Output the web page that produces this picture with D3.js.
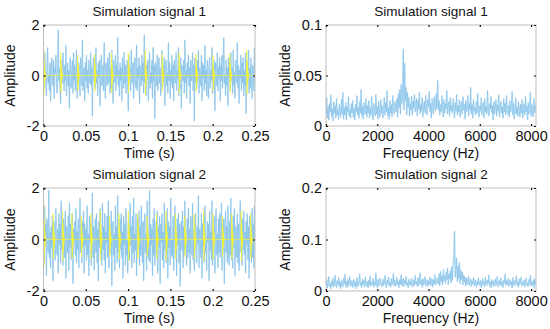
<!DOCTYPE html>
<html>
<head>
<meta charset="utf-8">
<script src="https://cdn.jsdelivr.net/npm/d3@7"></script>
<style>
  body { margin: 0; background: #fff; }
  svg { display: block; font-family: "Liberation Sans", Arial, sans-serif; }
</style>
</head>
<body>
<svg width="550" height="329"></svg>
<script>
// noise of simulation signal 1 (time domain, 0 - 0.25 s)
var signal1 = [
  0.2,-0.5,0.9,0.3,-0.2,-0.8,0.4,1.1,-0.3,0.0,-0.6,0.5,-1.0,0.2,0.7,-0.1,-0.4,0.6,-0.9,0.3,
  0.1,0.8,-0.3,-0.7,0.4,1.8,-0.2,0.3,-0.5,-1.1,0.6,0.0,-0.3,0.9,0.2,-0.6,0.4,-0.2,1.2,-0.8,
  -0.1,0.5,-0.4,0.2,-1.3,0.7,0.3,-0.5,0.1,0.6,-0.7,0.9,-0.2,0.4,-0.6,0.0,1.0,-0.9,0.3,-0.3,
  0.5,-0.1,-0.8,0.7,0.2,-0.4,1.4,-0.6,0.1,0.3,-1.0,0.5,-0.2,0.8,-0.5,0.2,-0.7,0.6,0.0,-0.3,
  0.9,-0.4,0.3,-1.6,0.4,0.7,-0.2,0.1,-0.5,1.1,-0.3,0.2,-0.8,0.5,-0.1,0.6,-1.2,0.3,0.8,-0.4,
  -0.2,0.4,-0.6,1.3,-0.1,-0.9,0.5,0.2,-0.4,0.7,-0.3,0.0,0.9,-0.7,0.3,-0.5,1.0,-0.2,-1.1,0.6,
  0.1,-0.3,0.8,-0.6,0.4,-0.1,1.5,-0.4,0.2,-0.8,0.5,-0.2,0.3,-1.0,0.7,0.0,-0.5,0.9,-0.3,0.4,
  -0.7,0.2,0.6,-0.4,-1.4,0.8,-0.1,0.3,-0.6,1.0,0.1,-0.3,0.5,-0.9,0.2,0.7,-0.2,-0.5,1.2,-0.6,
  0.3,-0.1,0.7,-1.1,0.4,0.0,-0.4,0.8,-0.2,0.5,-0.7,1.6,-0.3,0.2,-0.8,0.4,-0.1,0.6,-1.0,0.3,
  0.9,-0.5,0.1,-0.3,0.6,-0.9,1.1,-0.2,0.4,-1.7,0.5,0.2,-0.4,0.8,-0.6,0.0,0.7,-0.3,0.3,-0.8,
  -0.1,1.0,-0.5,0.4,-0.2,0.7,-1.2,0.3,0.6,-0.4,0.1,-0.7,1.3,-0.2,0.5,-0.9,0.2,-0.3,0.8,-0.5,
  0.4,-1.0,0.6,0.0,-0.3,0.9,-0.6,0.2,-0.1,1.1,-0.8,0.3,-0.5,0.7,-1.3,0.4,0.1,-0.2,0.6,-0.7,
  1.4,-0.3,0.2,-0.9,0.5,-0.1,0.8,-0.4,0.3,-1.1,0.6,-0.2,0.0,0.9,-0.6,0.4,-1.8,0.7,-0.3,0.2,
  -0.5,0.6,-0.2,1.0,-0.7,0.3,0.1,-0.4,0.8,-1.0,0.5,-0.1,0.4,-0.6,1.2,-0.3,0.2,-0.8,0.6,0.0,
  -0.9,0.3,0.7,-0.5,0.2,-0.2,1.1,-0.7,0.4,-0.3,0.6,-1.4,0.5,0.1,-0.4,0.9,-0.6,0.3,-0.1,0.7,
  -1.0,0.4,-0.2,0.8,-0.5,0.2,1.5,-0.3,0.0,-0.8,0.6,-0.4,0.3,-1.2,0.7,-0.1,0.5,-0.6,0.9,-0.2,
  0.3,-0.7,1.0,-0.4,0.1,-0.9,0.6,0.2,-0.3,1.3,-0.5,0.4,-1.1,0.2,-0.1,0.8,-0.6,0.5,-0.3,0.7,
  -0.8,0.2,-0.4,0.9,-1.5,0.6,0.0,-0.2,1.0,-0.7,0.3,-0.5,0.7,-0.1,-0.9,0.4,0.2,-0.6,1.1,-0.3
];

// noise of simulation signal 2
var signal2 = [
  0.4,-0.9,1.3,-0.2,0.6,-1.4,0.8,0.1,-0.5,1.9,-0.7,0.3,-1.1,0.5,-0.3,0.9,-1.6,0.2,0.7,-0.4,
  -0.8,1.2,0.0,-0.6,0.4,-1.3,1.0,-0.2,0.6,-0.9,1.5,-0.4,0.2,-1.0,0.8,0.3,-0.7,1.1,-1.5,0.5,
  0.1,-0.5,0.9,-1.2,1.4,-0.3,0.6,-0.8,0.2,1.0,-1.7,0.4,-0.1,0.7,-0.6,1.2,-0.9,0.3,-0.4,0.8,
  -1.1,0.5,1.6,-0.5,0.0,-0.9,0.7,-0.3,1.1,-1.3,0.6,-0.2,0.4,-0.8,1.3,-0.6,0.2,-1.4,0.9,-0.1,
  0.6,-1.0,0.3,1.8,-0.7,0.5,-1.2,0.1,0.8,-0.5,1.0,-0.9,0.4,-1.6,0.7,-0.3,1.2,-0.6,0.2,-1.0,
  1.4,-0.4,0.5,-0.8,1.0,-1.3,0.3,-0.1,0.9,-0.7,1.5,-1.1,0.6,0.0,-0.5,1.1,-1.8,0.4,0.7,-0.6,
  0.2,-1.2,1.3,-0.3,0.5,-0.9,1.7,-0.5,0.1,-1.1,0.8,-0.4,1.0,-0.7,0.3,-1.5,0.9,-0.2,0.6,-1.0,
  1.2,-0.6,0.0,-1.3,0.7,0.4,-0.8,1.4,-0.2,0.5,-1.1,0.9,-0.5,1.6,-0.9,0.2,-0.4,1.0,-1.4,0.3,
  0.8,-0.3,1.1,-1.0,0.5,-0.6,1.3,-0.1,-0.9,0.7,-1.6,0.4,1.0,-0.5,0.2,-1.2,1.5,-0.7,0.3,-0.8,
  1.9,-0.9,0.6,-0.2,0.4,-1.4,0.8,-0.6,1.2,-1.0,0.1,0.7,-0.5,1.1,-1.3,0.5,-0.3,0.9,-1.7,0.6,
  -0.1,1.0,-0.8,0.3,-1.1,1.4,-0.4,0.6,-0.9,0.2,1.2,-1.5,0.7,-0.3,0.5,-1.0,1.6,-0.6,0.0,-0.7,
  0.9,-1.2,0.4,1.3,-0.5,0.2,-1.4,0.8,-0.2,1.0,-0.9,0.6,-1.8,0.3,0.7,-0.4,1.1,-1.1,0.5,-0.6,
  1.5,-0.3,0.1,-1.0,0.8,-0.7,1.2,-0.5,0.4,-1.3,0.9,0.0,-0.6,1.4,-0.8,0.3,-1.2,0.6,1.0,-0.4,
  -0.9,0.5,-0.2,1.7,-1.1,0.4,0.2,-0.7,1.0,-1.5,0.6,-0.3,0.9,-0.9,1.3,-0.5,0.1,-1.2,0.7,-0.1,
  0.6,-1.6,1.1,-0.4,0.3,-0.8,1.5,-1.0,0.5,-0.2,0.9,-1.3,0.4,1.2,-0.6,0.2,-1.1,0.8,-0.5,1.0,
  -0.7,0.3,1.4,-1.2,0.6,-0.4,0.8,-1.7,0.2,1.1,-0.5,0.5,-0.9,1.3,-0.2,-1.0,0.7,-0.6,1.6,-0.8,
  0.4,-1.1,0.9,-0.3,1.2,-1.4,0.5,0.0,-0.7,1.0,-0.9,0.6,-1.2,0.3,1.5,-0.5,0.2,-1.0,0.8,-0.4,
  1.1,-0.6,0.3,-1.3,0.7,-0.2,1.0,-0.8,0.5,-1.5,0.9,-0.1,0.4,-0.9,1.2,-0.7,0.6,-1.1,1.3,-0.3
];

// amplitude spectrum of signal 1 (0 - 8192 Hz)
var spectrum1 = [
  0.012,0.028,0.008,0.019,0.006,0.022,0.014,0.031,0.010,0.017,0.005,0.024,0.013,0.020,0.008,0.027,0.011,0.016,0.007,0.021,
  0.015,0.009,0.026,0.012,0.033,0.007,0.018,0.011,0.023,0.006,0.019,0.014,0.029,0.010,0.016,0.008,0.022,0.013,0.025,0.009,
  0.017,0.006,0.021,0.014,0.030,0.011,0.018,0.008,0.024,0.013,0.036,0.010,0.019,0.007,0.023,0.015,0.012,0.027,0.009,0.020,
  0.013,0.025,0.008,0.018,0.011,0.029,0.014,0.006,0.022,0.016,0.010,0.031,0.012,0.019,0.007,0.024,0.015,0.009,0.026,0.013,
  0.020,0.008,0.017,0.028,0.011,0.023,0.014,0.035,0.010,0.018,0.007,0.025,0.013,0.021,0.009,0.030,0.016,0.012,0.024,0.019,
  0.014,0.027,0.009,0.032,0.018,0.036,0.012,0.041,0.022,0.030,0.076,0.016,0.062,0.025,0.038,0.011,0.033,0.019,0.028,0.010,
  0.022,0.016,0.029,0.011,0.024,0.018,0.031,0.014,0.020,0.027,0.010,0.025,0.017,0.033,0.012,0.021,0.015,0.028,0.009,0.019,
  0.024,0.013,0.030,0.016,0.011,0.026,0.019,0.034,0.014,0.022,0.008,0.027,0.017,0.012,0.029,0.020,0.015,0.032,0.018,0.045,
  0.016,0.025,0.011,0.021,0.014,0.030,0.018,0.009,0.026,0.013,0.022,0.017,0.035,0.012,0.019,0.024,0.010,0.028,0.015,0.020,
  0.013,0.027,0.017,0.008,0.023,0.015,0.031,0.011,0.020,0.014,0.026,0.009,0.018,0.024,0.012,0.029,0.016,0.021,0.007,0.025,
  0.014,0.019,0.030,0.010,0.022,0.016,0.038,0.012,0.021,0.008,0.026,0.015,0.018,0.011,0.024,0.013,0.032,0.017,0.009,0.020,
  0.015,0.028,0.011,0.018,0.023,0.008,0.027,0.014,0.019,0.012,0.035,0.016,0.010,0.022,0.017,0.029,0.013,0.020,0.006,0.024,
  0.012,0.018,0.026,0.010,0.021,0.015,0.031,0.009,0.017,0.024,0.013,0.019,0.008,0.027,0.014,0.022,0.011,0.030,0.016,0.012,
  0.020,0.009,0.025,0.014,0.018,0.034,0.011,0.022,0.007,0.016,0.028,0.012,0.019,0.010,0.024,0.015,0.009,0.021,0.013,0.026,
  0.008,0.017,0.022,0.011,0.029,0.014,0.019,0.006,0.023,0.012,0.018,0.033,0.010,0.021,0.015,0.009,0.027,0.013,0.020,0.016
];

// amplitude spectrum of signal 2
var spectrum2 = [
  0.010,0.022,0.006,0.016,0.028,0.009,0.014,0.004,0.019,0.011,0.025,0.008,0.015,0.030,0.012,0.007,0.020,0.013,0.026,0.009,
  0.017,0.005,0.021,0.012,0.008,0.024,0.014,0.032,0.010,0.018,0.006,0.023,0.011,0.016,0.028,0.009,0.013,0.020,0.007,0.015,
  0.022,0.010,0.017,0.005,0.026,0.012,0.009,0.019,0.033,0.011,0.016,0.007,0.023,0.013,0.020,0.008,0.027,0.014,0.010,0.018,
  0.006,0.021,0.012,0.029,0.009,0.016,0.013,0.024,0.008,0.018,0.011,0.035,0.014,0.007,0.022,0.010,0.019,0.025,0.012,0.015,
  0.009,0.023,0.011,0.017,0.030,0.013,0.006,0.020,0.014,0.027,0.010,0.016,0.008,0.024,0.012,0.019,0.034,0.011,0.021,0.009,
  0.015,0.026,0.012,0.018,0.007,0.022,0.013,0.031,0.010,0.017,0.024,0.009,0.020,0.014,0.028,0.011,0.016,0.006,0.023,0.013,
  0.019,0.010,0.025,0.015,0.008,0.021,0.012,0.030,0.014,0.018,0.009,0.026,0.011,0.016,0.035,0.013,0.020,0.007,0.024,0.012,
  0.017,0.028,0.010,0.015,0.022,0.009,0.019,0.013,0.027,0.011,0.016,0.024,0.008,0.021,0.014,0.031,0.012,0.018,0.025,0.016,
  0.014,0.033,0.010,0.038,0.018,0.029,0.012,0.041,0.020,0.030,0.015,0.036,0.022,0.044,0.013,0.032,0.024,0.039,0.016,0.046,
  0.021,0.052,0.068,0.116,0.027,0.042,0.064,0.018,0.048,0.024,0.055,0.014,0.040,0.022,0.037,0.012,0.031,0.018,0.027,0.010,
  0.024,0.013,0.020,0.029,0.011,0.017,0.023,0.009,0.019,0.014,0.026,0.010,0.016,0.021,0.008,0.018,0.012,0.025,0.015,0.011,
  0.020,0.007,0.016,0.024,0.012,0.018,0.009,0.027,0.014,0.011,0.021,0.015,0.031,0.010,0.017,0.006,0.022,0.013,0.019,0.009,
  0.015,0.023,0.011,0.018,0.028,0.008,0.014,0.020,0.012,0.025,0.010,0.017,0.007,0.021,0.016,0.033,0.011,0.019,0.013,0.024,
  0.009,0.016,0.022,0.012,0.018,0.006,0.026,0.014,0.010,0.020,0.015,0.029,0.011,0.017,0.008,0.023,0.013,0.019,0.027,0.010,
  0.016,0.012,0.021,0.008,0.018,0.025,0.011,0.015,0.009,0.022,0.014,0.030,0.010,0.017,0.012,0.020,0.007,0.024,0.013,0.018
];

// periodic impulses (yellow): onset times and peak amplitudes
var impulseTimes1 = [0, 0.02, 0.04, 0.06, 0.08, 0.1, 0.12, 0.14, 0.16, 0.18, 0.2, 0.22, 0.24];
var impulseAmps1 = [1.0, 0.9, 0.8, 0.85, 0.9, 0.9, 1.0, 0.85, 0.9, 0.85, 0.8, 0.85, 1.0];
var impulseTimes2 = [0, 0.0111, 0.0222, 0.0333, 0.0444, 0.0556, 0.0667, 0.0778, 0.0889, 0.1, 0.1111,
  0.1222, 0.1333, 0.1444, 0.1556, 0.1667, 0.1778, 0.1889, 0.2, 0.2111, 0.2222, 0.2333, 0.2444];
var impulseAmps2 = [1.4, 1.0, 1.1, 1.0, 0.9, 1.0, 1.1, 0.9, 1.0, 1.1, 1.0,
  0.9, 1.0, 1.1, 1.0, 0.9, 1.0, 1.1, 1.0, 0.9, 1.0, 1.1, 1.0];
// ringing of one impulse, relative to its peak, one sample every 0.0003 s
var impulseShape = [0, 1, -0.75, 0.55, -0.4, 0.28, -0.18, 0.1, -0.05, 0];

// axes
var timeTicks = [0, 0.05, 0.1, 0.15, 0.2, 0.25];
var timeLabels = ["0", "0.05", "0.1", "0.15", "0.2", "0.25"];
var freqTicks = [0, 2000, 4000, 6000, 8000];
var freqLabels = ["0", "2000", "4000", "6000", "8000"];
var ampTicks = [-2, 0, 2];
var ampLabels = ["-2", "0", "2"];
var spec1Ticks = [0, 0.05, 0.1];
var spec1Labels = ["0", "0.05", "0.1"];
var spec2Ticks = [0, 0.1, 0.2];
var spec2Labels = ["0", "0.1", "0.2"];

var svg = d3.select("svg");

var haloColor = "#c2e3f6";
var noiseColor = "#3f9bd9";
var pulseColor = "#f2f23a";

function impulseSeries(times, amps) {
  var pts = [[0, 0]];
  times.forEach(function (t0, k) {
    impulseShape.forEach(function (s, j) {
      pts.push([t0 + j * 0.0003, s * amps[k]]);
    });
  });
  pts.push([0.25, 0]);
  return pts;
}

function drawPanel(p) {
  var g = svg.append("g").attr("transform", "translate(" + p.left + "," + p.top + ")");
  var w = p.width, h = p.height;

  var x = d3.scaleLinear().domain(p.xDomain).range([0, w]);
  var y = d3.scaleLinear().domain(p.yDomain).range([h, 0]);

  g.append("clipPath").attr("id", p.id)
    .append("rect").attr("width", w).attr("height", h);

  var plot = g.append("g").attr("clip-path", "url(#" + p.id + ")");

  var n = p.values.length;
  var line = d3.line()
    .x(function (d, i) { return x(p.xDomain[0] + i / (n - 1) * (p.xDomain[1] - p.xDomain[0])); })
    .y(function (d) { return y(d); });

  // soft wide stroke gives the light band, thin one on top the darker traces
  plot.append("path")
    .datum(p.values)
    .attr("fill", "none")
    .attr("stroke", haloColor)
    .attr("stroke-width", 1.4)
    .attr("stroke-linejoin", "round")
    .attr("d", line);
  plot.append("path")
    .datum(p.values)
    .attr("fill", "none")
    .attr("stroke", noiseColor)
    .attr("stroke-opacity", 0.4)
    .attr("stroke-width", 0.6)
    .attr("d", line);

  if (p.pulses) {
    plot.append("path")
      .datum(p.pulses)
      .attr("fill", "none")
      .attr("stroke", pulseColor)
      .attr("stroke-opacity", 0.9)
      .attr("stroke-width", 0.8)
      .attr("d", d3.line().x(function (d) { return x(d[0]); }).y(function (d) { return y(d[1]); }));
  }

  // frame
  g.append("rect")
    .attr("width", w).attr("height", h)
    .attr("fill", "none")
    .attr("stroke", "#bdbdbd")
    .attr("stroke-width", 1);

  // tick marks on all four sides, pointing inward
  function styleAxis(sel) {
    sel.select(".domain").remove();
    sel.selectAll(".tick line").attr("stroke", "#111").attr("stroke-width", 1.2);
    sel.selectAll(".tick text").attr("fill", "#111").style("font-size", "14.5px");
  }
  g.append("g").attr("transform", "translate(0," + h + ")")
    .call(d3.axisBottom(x).tickValues(p.xTicks).tickFormat(function (d, i) { return p.xLabels[i]; })
      .tickSizeInner(-2).tickSizeOuter(0).tickPadding(5))
    .call(styleAxis);
  g.append("g")
    .call(d3.axisTop(x).tickValues(p.xTicks).tickFormat("").tickSizeInner(-2).tickSizeOuter(0))
    .call(styleAxis);
  g.append("g")
    .call(d3.axisLeft(y).tickValues(p.yTicks).tickFormat(function (d, i) { return p.yLabels[i]; })
      .tickSizeInner(-2).tickSizeOuter(0).tickPadding(4))
    .call(styleAxis);
  g.append("g").attr("transform", "translate(" + w + ",0)")
    .call(d3.axisRight(y).tickValues(p.yTicks).tickFormat("").tickSizeInner(-2).tickSizeOuter(0))
    .call(styleAxis);

  // texts
  g.append("text")
    .attr("x", w / 2).attr("y", -9)
    .attr("text-anchor", "middle")
    .attr("fill", "#111")
    .style("font-size", "13.5px")
    .text(p.title);
  g.append("text")
    .attr("x", w / 2).attr("y", h + 32)
    .attr("text-anchor", "middle")
    .attr("fill", "#111")
    .style("font-size", "14px")
    .text(p.xLabel);
  g.append("text")
    .attr("transform", "translate(" + p.yLabelX + "," + h / 2 + ") rotate(-90)")
    .attr("text-anchor", "middle")
    .attr("fill", "#111")
    .style("font-size", "14px")
    .text("Amplitude");
}

var leftX = 43.5, rightX = 326, panelW = 211.5, panelH = 101;
var topY = 25, bottomY = 188;

drawPanel({
  id: "c1", left: leftX, top: topY, width: panelW, height: panelH,
  xDomain: [0, 0.25], yDomain: [-2, 2], values: signal1,
  pulses: impulseSeries(impulseTimes1, impulseAmps1),
  xTicks: timeTicks, xLabels: timeLabels, yTicks: ampTicks, yLabels: ampLabels,
  title: "Simulation signal 1", xLabel: "Time (s)", yLabelX: -28.5
});
drawPanel({
  id: "c2", left: rightX, top: topY, width: panelW - 1.5, height: panelH,
  xDomain: [0, 8192], yDomain: [0, 0.1], values: spectrum1,
  xTicks: freqTicks, xLabels: freqLabels, yTicks: spec1Ticks, yLabels: spec1Labels,
  title: "Simulation signal 1", xLabel: "Frequency (Hz)", yLabelX: -36
});
drawPanel({
  id: "c3", left: leftX, top: bottomY, width: panelW, height: panelH + 2,
  xDomain: [0, 0.25], yDomain: [-2, 2], values: signal2,
  pulses: impulseSeries(impulseTimes2, impulseAmps2),
  xTicks: timeTicks, xLabels: timeLabels, yTicks: ampTicks, yLabels: ampLabels,
  title: "Simulation signal 2", xLabel: "Time (s)", yLabelX: -28.5
});
drawPanel({
  id: "c4", left: rightX, top: bottomY, width: panelW - 1.5, height: panelH + 2,
  xDomain: [0, 8192], yDomain: [0, 0.2], values: spectrum2,
  xTicks: freqTicks, xLabels: freqLabels, yTicks: spec2Ticks, yLabels: spec2Labels,
  title: "Simulation signal 2", xLabel: "Frequency (Hz)", yLabelX: -36
});
</script>
</body>
</html>
